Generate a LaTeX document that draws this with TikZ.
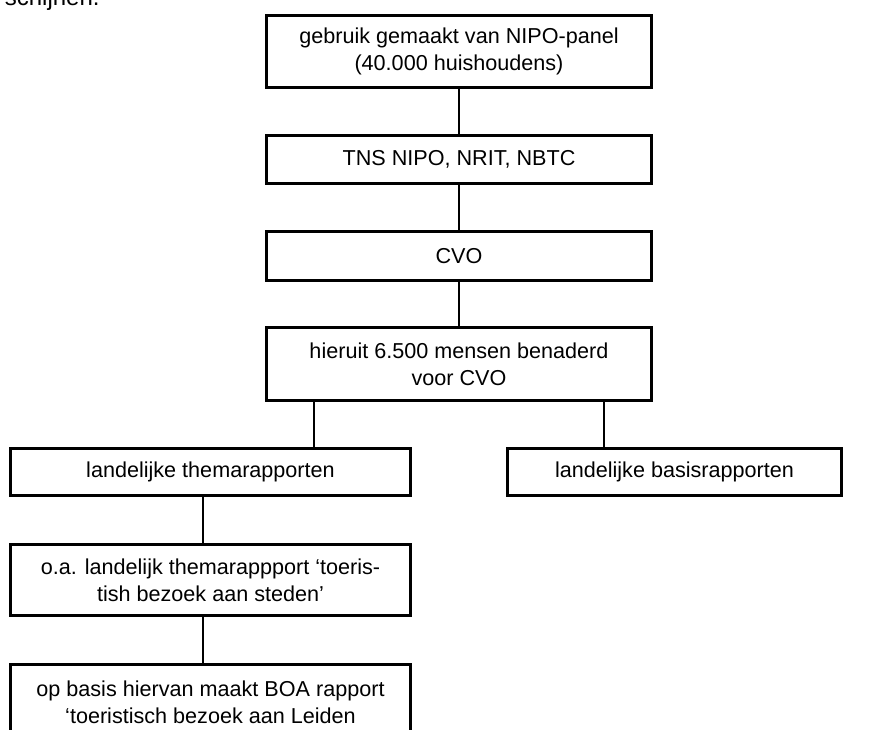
\documentclass[tikz,border=0pt]{standalone}
\usepackage{fontspec}
\setmainfont{Liberation Sans}
\usetikzlibrary{calc}
\tikzset{rec/.style={rectangle,draw,line width=1.7pt,align=center,inner sep=0pt,font=\fontsize{10.8}{13.5}\selectfont}}
\tikzset{lijn/.style={line width=0.8pt}}

\begin{document}
\begin{tikzpicture}[x=0.5pt,y=-0.5pt]
    \useasboundingbox (0,0) rectangle (879,729);
    \node[anchor=base east,inner sep=0pt,font=\fontsize{12}{14}\selectfont] (schijnen)at (100,5) {schijnen.};

    \node[rec,minimum width=192.5pt,minimum height=36pt] (panel)at (459,51.5) {gebruik gemaakt van NIPO-panel\\(40.000 huishoudens)};
    \node[rec,minimum width=192.5pt,minimum height=24pt] (tns)at (459,159.5) {TNS NIPO, NRIT, NBTC};
    \node[rec,minimum width=192.5pt,minimum height=24.5pt] (cvo)at (459,256) {CVO};
    \node[rec,minimum width=192.5pt,minimum height=36.5pt] (benaderd)at (459,364) {hieruit 6.500 mensen benaderd\\voor CVO};
    \node[rec,minimum width=200pt,minimum height=23.5pt] (thema)at (210.5,472) {landelijke themarapporten};
    \node[rec,minimum width=167pt,minimum height=23.5pt] (basis)at (674.5,472) {landelijke basisrapporten};
    \node[rec,minimum width=200pt,minimum height=35.5pt] (steden)at (210.5,580) {o.a. landelijk themarappport ‘toeris-\\tish bezoek aan steden’};
    \node[rec,minimum width=200pt,minimum height=37.5pt] (leiden)at (210.5,702) {op basis hiervan maakt BOA rapport\\‘toeristisch bezoek aan Leiden};

    \draw [lijn] (panel) to (tns);
    \draw [lijn] (tns) to (cvo);
    \draw [lijn] (cvo) to (benaderd);
    \draw [lijn] ($(benaderd.south west)!.126!(benaderd.south east)$) coordinate (links) to (links |- thema.north);
    \draw [lijn] ($(benaderd.south west)!.874!(benaderd.south east)$) coordinate (rechts) to (rechts |- basis.north);
    \draw [lijn] ([xshift=-3.75pt]thema.south) to ([xshift=-3.75pt]steden.north);
    \draw [lijn] ([xshift=-3.75pt]steden.south) to ([xshift=-3.75pt]leiden.north);
\end{tikzpicture}
\end{document}
